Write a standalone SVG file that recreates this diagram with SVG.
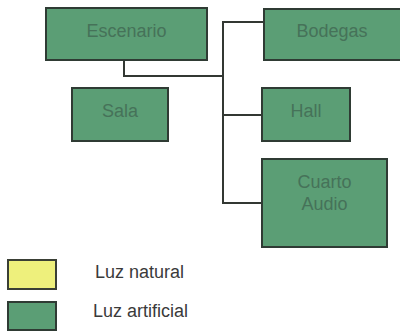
<svg xmlns="http://www.w3.org/2000/svg" width="400" height="335" viewBox="0 0 400 335">
<style>
.box{fill:#5b9e75;stroke:#2f3b34;stroke-width:2}
.lbl{font-family:"Liberation Sans",Arial,sans-serif;font-size:18px;fill:#467259;text-anchor:middle}
.leg{font-family:"Liberation Sans",Arial,sans-serif;font-size:18px;fill:#3a3a3a}
.con{fill:none;stroke:#333833;stroke-width:2}
</style>
<rect width="400" height="335" fill="#ffffff"/>
<g id="connectors">
<polyline class="con" points="124,60 124,76 223,76"/>
<polyline class="con" points="264,22 223,22 223,203 262,203"/>
<line class="con" x1="223" y1="115" x2="262" y2="115"/>
</g>
<g id="escenario"><rect class="box" x="46" y="8" width="161" height="52"/><text class="lbl" x="126.5" y="37">Escenario</text></g>
<g id="bodegas"><rect class="box" x="264" y="9" width="140" height="51"/><text class="lbl" x="332" y="37">Bodegas</text></g>
<g id="sala"><rect class="box" x="72" y="88" width="96" height="53"/><text class="lbl" x="120" y="117">Sala</text></g>
<g id="hall"><rect class="box" x="262" y="88" width="88" height="53"/><text class="lbl" x="306" y="117">Hall</text></g>
<g id="cuarto-audio"><rect class="box" x="262" y="159" width="125" height="88"/><text class="lbl" x="324.5" y="188">Cuarto</text><text class="lbl" x="324.5" y="210">Audio</text></g>
<g id="legend-natural"><rect x="8" y="260" width="48" height="29" fill="#eef07c" stroke="#3a3f35" stroke-width="2"/><text class="leg" x="95" y="278">Luz natural</text></g>
<g id="legend-artificial"><rect class="box" x="8" y="302" width="48" height="28"/><text class="leg" x="93" y="317">Luz artificial</text></g>
</svg>
